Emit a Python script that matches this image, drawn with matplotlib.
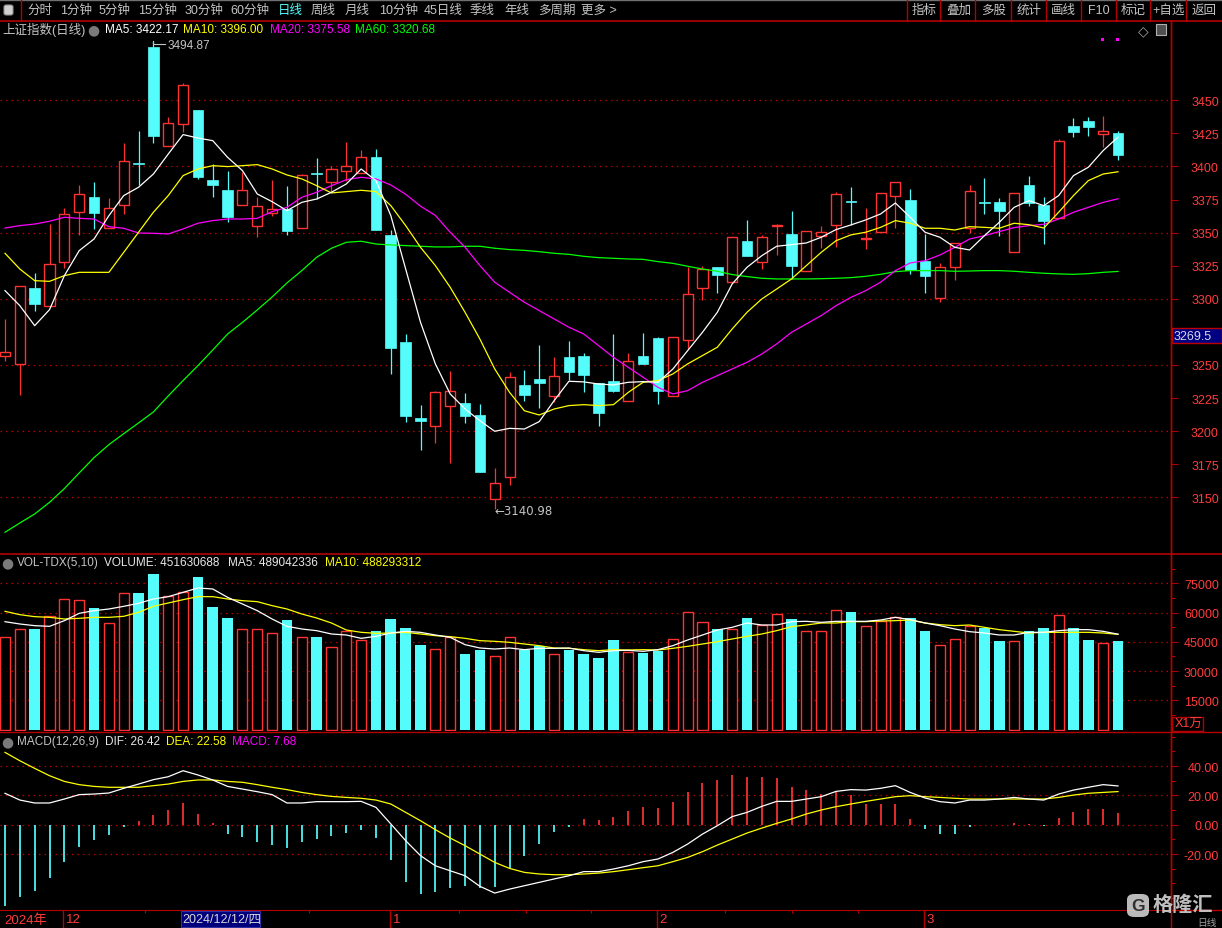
import matplotlib
matplotlib.use('Agg')
import matplotlib.pyplot as plt
from matplotlib.patches import Rectangle, FancyBboxPatch
from matplotlib.lines import Line2D
import numpy as np

plt.rcParams['font.family'] = ['Liberation Sans', 'Noto Sans CJK SC', 'DejaVu Sans']
plt.rcParams['axes.unicode_minus'] = False

# ---------------------------------------------------------------- data
opens = [3256.5, 3250.5, 3308.2, 3294.8, 3328.1, 3365.9, 3377.0, 3353.3, 3370.7, 3402.6,
         3490.3, 3415.7, 3431.9, 3442.7, 3389.8, 3382.2, 3371.2, 3355.3, 3364.6, 3367.9,
         3353.3, 3394.6, 3388.5, 3396.9, 3394.8, 3406.9, 3348.0, 3267.4, 3210.0, 3203.7,
         3218.8, 3221.3, 3212.2, 3148.5, 3165.1, 3234.9, 3239.4, 3226.8, 3255.8, 3256.5,
         3236.1, 3237.9, 3222.5, 3256.8, 3270.4, 3226.3, 3269.1, 3307.9, 3323.8, 3312.5,
         3343.7, 3328.1, 3355.3, 3349.0, 3320.8, 3347.2, 3356.0, 3373.9, 3345.5, 3350.8,
         3378.0, 3374.7, 3328.8, 3300.4, 3324.3, 3353.3, 3373.1, 3372.9, 3335.1, 3386.0,
         3370.9, 3361.3, 3430.4, 3434.4, 3424.3, 3425.3]
highs = [3284.8, 3309.4, 3319.3, 3356.5, 3368.6, 3386.3, 3388.3, 3376.2, 3417.8, 3426.8,
         3494.87, 3437.4, 3463.4, 3442.7, 3401.9, 3396.6, 3395.6, 3377.2, 3389.8, 3385.5,
         3394.3, 3406.4, 3400.6, 3418.5, 3412.5, 3413.2, 3351.8, 3273.4, 3219.8, 3230.1,
         3245.7, 3229.1, 3220.5, 3172.2, 3245.0, 3246.2, 3265.1, 3255.8, 3268.1, 3259.1,
         3236.1, 3273.4, 3259.1, 3274.2, 3271.2, 3270.9, 3324.1, 3324.6, 3323.8, 3346.5,
         3359.6, 3348.2, 3356.5, 3366.4, 3351.0, 3355.0, 3380.5, 3384.5, 3368.6, 3379.7,
         3388.0, 3383.0, 3349.0, 3327.1, 3341.9, 3386.0, 3391.3, 3375.9, 3379.7, 3392.8,
         3377.0, 3420.8, 3436.6, 3437.4, 3438.2, 3426.8]
lows = [3253.3, 3227.6, 3291.1, 3294.8, 3323.0, 3348.2, 3352.8, 3353.3, 3364.4, 3386.3,
        3418.0, 3415.7, 3426.3, 3390.6, 3377.2, 3358.1, 3371.2, 3347.0, 3362.8, 3348.2,
        3353.3, 3375.4, 3380.5, 3389.3, 3394.8, 3352.3, 3243.0, 3206.7, 3186.0, 3191.1,
        3176.0, 3206.2, 3169.4, 3140.98, 3159.6, 3223.0, 3217.5, 3221.8, 3238.9, 3229.8,
        3204.2, 3229.8, 3222.5, 3251.0, 3220.8, 3226.3, 3262.1, 3299.4, 3304.4, 3312.5,
        3332.6, 3322.5, 3333.4, 3315.0, 3320.8, 3338.4, 3339.4, 3355.8, 3337.7, 3350.8,
        3353.5, 3318.8, 3304.4, 3297.9, 3314.5, 3349.5, 3364.4, 3347.7, 3335.1, 3370.4,
        3341.7, 3361.3, 3422.5, 3423.3, 3415.0, 3405.2]
closes = [3259.6, 3309.4, 3296.1, 3326.1, 3363.9, 3379.0, 3365.1, 3368.4, 3403.9, 3402.2,
          3423.3, 3432.6, 3461.3, 3392.3, 3386.3, 3362.1, 3382.0, 3369.9, 3367.6, 3351.5,
          3393.6, 3394.2, 3397.9, 3400.4, 3406.9, 3352.3, 3263.1, 3211.7, 3207.4, 3229.6,
          3230.4, 3211.7, 3169.4, 3160.8, 3240.7, 3227.3, 3236.6, 3241.4, 3245.0, 3242.7,
          3214.0, 3230.6, 3252.8, 3251.0, 3230.1, 3270.9, 3303.4, 3322.5, 3318.3, 3346.5,
          3332.6, 3346.5, 3355.7, 3325.1, 3351.0, 3350.3, 3379.0, 3373.5, 3345.9, 3379.7,
          3388.0, 3321.8, 3317.5, 3323.8, 3341.9, 3381.2, 3372.7, 3366.6, 3379.7, 3372.2,
          3359.1, 3419.0, 3426.3, 3430.1, 3426.6, 3408.9]

ma5 = [3306.2, 3294.8, 3279.7, 3291.8, 3317.5, 3336.4, 3345.2, 3362.8, 3378.0, 3384.3,
       3394.3, 3409.4, 3424.1, 3421.5, 3419.5, 3406.9, 3396.9, 3379.2, 3373.4, 3366.6,
       3372.9, 3375.4, 3380.5, 3386.8, 3398.1, 3389.3, 3362.8, 3322.5, 3282.2, 3250.8,
       3228.1, 3216.8, 3207.9, 3199.9, 3202.1, 3201.6, 3207.2, 3223.0, 3237.7, 3237.2,
       3235.6, 3234.9, 3236.9, 3237.4, 3236.9, 3246.9, 3260.8, 3274.7, 3289.8, 3311.2,
       3323.8, 3332.6, 3339.7, 3340.9, 3342.2, 3346.5, 3352.3, 3355.8, 3359.6, 3364.1,
       3372.4, 3361.6, 3350.3, 3346.5, 3338.9, 3336.9, 3347.7, 3357.8, 3369.1, 3374.2,
       3370.4, 3378.0, 3393.1, 3399.4, 3412.0, 3422.17]
ma10 = [3334.4, 3322.5, 3313.7, 3313.2, 3317.5, 3320.0, 3320.0, 3320.0, 3335.1, 3350.3,
        3365.4, 3378.0, 3393.1, 3398.1, 3400.6, 3399.9, 3400.6, 3401.4, 3398.1, 3393.6,
        3390.6, 3385.5, 3380.0, 3381.0, 3382.0, 3381.0, 3370.4, 3355.3, 3338.9, 3325.1,
        3308.7, 3289.8, 3269.6, 3247.0, 3229.3, 3215.4, 3212.2, 3216.7, 3219.3, 3220.0,
        3219.3, 3220.0, 3229.3, 3236.9, 3238.2, 3243.2, 3250.8, 3257.1, 3263.4, 3277.2,
        3289.8, 3299.9, 3307.4, 3315.0, 3325.1, 3335.1, 3343.9, 3348.3, 3350.3, 3354.0,
        3359.1, 3357.1, 3353.3, 3353.3, 3352.0, 3354.5, 3354.0, 3353.3, 3357.1, 3356.0,
        3353.5, 3365.4, 3378.0, 3389.3, 3394.3, 3396.00]
ma20 = [3353.5, 3355.3, 3356.5, 3358.6, 3361.6, 3360.8, 3360.3, 3354.5, 3353.3, 3349.7,
        3349.5, 3349.0, 3352.8, 3357.1, 3359.1, 3360.3, 3360.3, 3360.8, 3365.9, 3369.1,
        3376.7, 3380.5, 3385.5, 3390.0, 3391.8, 3390.6, 3386.0, 3379.0, 3370.0, 3363.0,
        3350.3, 3339.0, 3325.1, 3312.5, 3304.9, 3297.4, 3291.1, 3284.8, 3278.5, 3273.4,
        3264.6, 3255.8, 3248.2, 3240.7, 3233.1, 3228.1, 3230.6, 3236.9, 3241.9, 3247.0,
        3252.0, 3258.3, 3265.9, 3274.7, 3281.0, 3287.3, 3294.8, 3301.1, 3306.2, 3312.5,
        3321.3, 3327.1, 3328.8, 3333.1, 3338.9, 3345.2, 3347.7, 3350.8, 3353.8, 3355.3,
        3356.3, 3360.3, 3365.4, 3369.1, 3372.9, 3375.58]
ma60 = [3123.6, 3130.6, 3137.4, 3146.2, 3156.6, 3168.4, 3180.0, 3189.8, 3198.1, 3206.2,
        3214.5, 3226.6, 3238.2, 3249.5, 3261.3, 3273.4, 3282.2, 3291.6, 3301.4, 3312.0,
        3321.3, 3331.4, 3338.2, 3342.7, 3343.5, 3341.4, 3340.7, 3340.2, 3339.7, 3339.2,
        3339.2, 3339.7, 3339.7, 3338.2, 3337.2, 3336.6, 3335.6, 3334.4, 3333.6, 3332.1,
        3331.1, 3330.6, 3330.1, 3329.8, 3328.1, 3326.8, 3324.6, 3322.5, 3320.8, 3318.3,
        3316.8, 3315.5, 3315.0, 3315.0, 3315.0, 3315.2, 3315.5, 3316.0, 3317.0, 3318.5,
        3320.5, 3321.3, 3321.3, 3321.3, 3320.8, 3321.0, 3321.3, 3321.3, 3320.8, 3320.0,
        3319.3, 3318.8, 3318.5, 3319.0, 3320.0, 3320.68]

# volume, unit: 10k (万)
volume = [47297, 51398, 51570, 58063, 66780, 66267, 62337, 54475, 69855, 70026,
          79767, 68317, 70367, 78229, 62850, 57210, 51398, 51398, 49347, 56185,
          47297, 47468, 42170, 50545, 45931, 50545, 56698, 52084, 43368, 41146,
          47639, 38753, 40804, 37556, 47297, 40975, 43026, 38582, 40975, 38753,
          36873, 45929, 39948, 39264, 40460, 46441, 60113, 54986, 51568, 51398,
          57208, 53619, 59087, 56695, 50372, 50372, 61139, 60285, 52936, 55499,
          57550, 57208, 50543, 43194, 46270, 53277, 52081, 45416, 45416, 50543,
          52081, 58575, 52081, 46099, 44219, 45163]
vol_ma5 = [55329, 54133, 53278, 52936, 55841, 59601, 60968, 61823, 63190, 64728,
           66950, 68146, 70368, 72590, 72077, 67805, 64387, 60968, 56696, 52936,
           51569, 50715, 49005, 48493, 46784, 47809, 49518, 50373, 49860, 48493,
           47296, 43537, 41828, 41315, 41828, 40973, 41657, 41657, 41828, 40460,
           39606, 40460, 40631, 40118, 40973, 43024, 45930, 48493, 51056, 52424,
           54645, 53620, 53620, 55329, 55500, 54987, 55500, 55500, 55500, 56183,
           57551, 56354, 54645, 53278, 51569, 50202, 49518, 48493, 48493, 49860,
           49860, 50715, 51228, 51228, 50373, 48904]
vol_ma10 = [60627, 58918, 57892, 57550, 56696, 57038, 57550, 57550, 58063, 60114,
            63190, 64899, 66608, 68146, 68146, 66950, 66096, 65583, 63532, 61823,
            59260, 57209, 54645, 51056, 49860, 49347, 49518, 49860, 49005, 48151,
            47638, 46784, 45588, 45246, 44733, 43878, 43024, 41828, 41657, 40973,
            40460, 40973, 40802, 40973, 40802, 41657, 42682, 43878, 45075, 46442,
            47809, 49005, 50715, 52766, 53620, 54645, 54645, 55329, 55329, 55671,
            55841, 56183, 54645, 53791, 53278, 53620, 52424, 51228, 50373, 49518,
            49860, 49860, 49860, 49860, 49518, 48829]

dif = [21.4, 16.8, 14.8, 14.8, 17.5, 20.5, 20.9, 21.6, 24.8, 27.7,
       30.7, 32.7, 36.8, 33.9, 30.5, 26.1, 24.3, 22.5, 20.5, 14.8,
       14.8, 15.7, 15.7, 15.7, 15.9, 11.8, 0.5, -10.9, -21.1, -28.0,
       -31.4, -34.8, -42.0, -46.6, -43.9, -41.6, -39.3, -37.0, -34.8, -32.0,
       -32.0, -30.2, -28.0, -25.2, -23.4, -18.9, -13.2, -6.4, -0.7, 5.5,
       8.4, 12.5, 15.9, 15.9, 17.5, 19.1, 22.7, 23.9, 23.6, 24.8,
       26.6, 22.0, 18.2, 15.7, 14.8, 16.8, 16.8, 17.5, 18.6, 17.5,
       16.8, 20.9, 23.6, 25.5, 27.3, 26.42]
dea = [49.3, 43.6, 38.4, 33.4, 29.5, 27.3, 26.1, 25.5, 25.5, 25.5,
       26.6, 27.7, 29.5, 30.5, 30.5, 29.5, 28.9, 27.3, 25.5, 23.9,
       22.0, 20.5, 19.3, 18.6, 18.0, 16.8, 14.1, 8.4, 2.7, -3.4,
       -9.1, -14.3, -20.0, -25.7, -29.8, -32.5, -33.6, -34.1, -34.1, -33.6,
       -33.0, -32.0, -30.7, -29.3, -28.0, -25.2, -22.3, -18.4, -13.9, -9.8,
       -5.7, -2.3, 0.9, 3.9, 7.3, 10.0, 12.3, 14.1, 15.9, 17.5,
       19.1, 19.8, 19.1, 18.6, 18.0, 17.5, 17.5, 17.5, 17.5, 17.5,
       17.5, 18.6, 20.2, 21.4, 22.0, 22.58]
macd = [-55.7, -49.1, -45.0, -36.4, -25.2, -15.0, -10.2, -7.0, -1.4, 2.3,
        6.6, 10.2, 14.8, 7.3, 0.9, -6.4, -8.2, -11.6, -13.9, -16.1,
        -12.0, -9.8, -7.5, -5.7, -3.4, -9.1, -23.9, -38.9, -47.3, -46.1,
        -43.4, -41.6, -43.4, -42.7, -29.8, -21.1, -13.2, -5.2, -1.4, 3.9,
        3.2, 5.0, 9.5, 11.8, 11.4, 15.2, 22.5, 28.4, 30.5, 33.9,
        32.7, 32.7, 31.8, 25.9, 23.6, 20.9, 22.0, 20.5, 14.1, 14.1,
        14.1, 3.9, -3.0, -6.4, -6.4, -1.4, 0.0, 0.0, 1.1, 0.5,
        -0.7, 4.5, 8.9, 10.7, 10.7, 7.68]

price_ticks = [3150, 3175, 3200, 3225, 3250, 3275, 3300, 3325, 3350, 3375, 3400, 3425, 3450]
price_hidden_label = 3275          # covered by the current-price box
price_grid = [3150, 3200, 3250, 3300, 3350, 3400, 3450]
vol_ticks = [15000, 30000, 45000, 60000, 75000]
vol_minor = [7500, 22500, 37500, 52500, 67500, 82500]
macd_ticks = [-20, 0, 20, 40]
macd_minor = [-50, -40, -30, -10, 10, 30, 50, 60]

month_starts = [4, 26, 44, 62]
month_labels = ['12', '1', '2', '3']
year_label = '2024年'
highlight_idx = 12
highlight_label = '2024/12/12/四'
week_ticks = [9.45, 20.5, 30.6, 35.1, 39.5, 48.5, 53.0, 57.5]

cur_price_label = '3269.5'
cur_price_pos = 3272.0

toolbar_items = ['分时', '1分钟', '5分钟', '15分钟', '30分钟', '60分钟', '日线', '周线', '月线',
                 '10分钟', '45日线', '季线', '年线', '多周期', '更多 >']
toolbar_buttons = ['指标', '叠加', '多股', '统计', '画线', 'F10', '标记', '+自选', '返回']

vol_total_raw = 451630688
vol_ma5_raw = 489042336
vol_ma10_raw = 488293312

# ---------------------------------------------------------------- layout helpers
W, H = 1222, 929
fig = plt.figure(figsize=(W / 100, H / 100), dpi=100)
fig.patch.set_facecolor('black')


def fy(y):
    return 1 - y / H


def rect(x0, y0, x1, y1):
    return [x0 / W, 1 - y1 / H, (x1 - x0) / W, (y1 - y0) / H]


def hline(y, x0, x1, color, lw=1.0, **kw):
    fig.add_artist(Line2D([x0 / W, x1 / W], [fy(y), fy(y)], color=color, lw=lw,
                          transform=fig.transFigure, **kw))


def vline(x, y0, y1, color, lw=1.0, **kw):
    fig.add_artist(Line2D([x / W, x / W], [fy(y0), fy(y1)], color=color, lw=lw,
                          transform=fig.transFigure, **kw))


def ftext(x, y, s, color, size=9, ha='left', **kw):
    fig.text(x / W, fy(y), s, color=color, fontsize=size, ha=ha, va='center', **kw)


RED = '#FF3232'
CYAN = '#54FCFC'
DKRED = '#B40000'
GRIDC = '#B80000'
LBLRED = '#FF3C3C'
GRAY = '#C4C4C4'
YEL = '#FFFF00'
MAG = '#FF00FF'
GRN = '#00FF00'

n = len(closes)
idx = np.arange(n)
STEP = 14.84
XL = (-5 / STEP, (1171 - 5) / STEP)


def style_axis(a, ylim, ticks, labels, minor=None, grid=None):
    a.set_facecolor('black')
    a.set_xlim(*XL)
    a.set_ylim(*ylim)
    for s in ['top', 'bottom', 'left']:
        a.spines[s].set_visible(False)
    a.spines['right'].set_color(DKRED)
    a.spines['right'].set_linewidth(1.0)
    a.set_xticks([])
    a.yaxis.tick_right()
    a.set_yticks(ticks)
    a.set_yticklabels(labels)
    if minor is not None:
        a.set_yticks(minor, minor=True)
    a.tick_params(axis='y', which='major', length=5, width=0.8, color=DKRED,
                  labelcolor=LBLRED, labelsize=9, pad=29.5)
    a.tick_params(axis='y', which='minor', length=3, width=0.8, color=DKRED)
    for t in a.get_yticklabels():
        t.set_ha('right')
    if grid is not None:
        for g in grid:
            a.axhline(g, color=GRIDC, lw=0.9, ls=(0, (1.2, 3.2)), zorder=0.5)


# ---------------------------------------------------------------- main price panel
ax = fig.add_axes(rect(0, 22, 1171, 553))
style_axis(ax, (3108.66, 3509.93), price_ticks,
           ['' if t == price_hidden_label else str(t) for t in price_ticks], grid=price_grid)

for i in range(n):
    o, h, l, c = opens[i], highs[i], lows[i], closes[i]
    top, bot = max(o, c), min(o, c)
    hgt = max(top - bot, 0.7)
    if c >= o:
        if h > top:
            ax.vlines(i, top, h, color=RED, lw=0.9, zorder=2)
        if l < bot:
            ax.vlines(i, l, bot, color=RED, lw=0.9, zorder=2)
        ax.add_patch(Rectangle((i - 0.34, bot), 0.68, hgt, facecolor='black',
                               edgecolor=RED, lw=1.0, zorder=2.1))
    else:
        ax.vlines(i, l, h, color=CYAN, lw=0.9, zorder=2)
        ax.add_patch(Rectangle((i - 0.36, bot), 0.72, hgt, facecolor=CYAN,
                               edgecolor=CYAN, lw=0.5, zorder=2.1))

ax.plot(idx, ma60, color=GRN, lw=0.9, zorder=3)
ax.plot(idx, ma20, color=MAG, lw=0.9, zorder=3)
ax.plot(idx, ma10, color=YEL, lw=0.9, zorder=3)
ax.plot(idx, ma5, color='white', lw=0.9, zorder=3)

# extreme labels
hi_i = int(np.argmax(highs))
lo_i = int(np.argmin(lows))
ax.plot([hi_i, hi_i, hi_i + 0.75], [highs[hi_i], highs[hi_i] - 2.5, highs[hi_i] - 2.5],
        color=GRAY, lw=0.8, zorder=4)
ax.text(hi_i + 0.92, highs[hi_i] - 3.3, f'{highs[hi_i]:.2f}', color=GRAY, fontsize=8.5,
        ha='left', va='center', zorder=4)
ax.text(lo_i - 0.05, lows[lo_i] - 0.6, f'\u2190{lows[lo_i]:.2f}', color=GRAY, fontsize=8.5,
        ha='left', va='center', zorder=4, family=['DejaVu Sans'])

# ---------------------------------------------------------------- volume panel
axv = fig.add_axes(rect(0, 555, 1171, 732))
style_axis(axv, (-728, 90020), vol_ticks, [str(t) for t in vol_ticks], minor=vol_minor,
           grid=vol_ticks)
for i in range(n):
    if closes[i] >= opens[i]:
        axv.bar(i, volume[i], width=0.68, facecolor='black', edgecolor=RED, lw=1.0, zorder=2)
    else:
        axv.bar(i, volume[i], width=0.72, color=CYAN, zorder=2)
axv.plot(idx, vol_ma10, color=YEL, lw=0.9, zorder=3)
axv.plot(idx, vol_ma5, color='white', lw=0.9, zorder=3)

# ---------------------------------------------------------------- MACD panel
axm = fig.add_axes(rect(0, 733, 1171, 911))
style_axis(axm, (-58.15, 63.19), macd_ticks, [f'{t:.2f}' for t in macd_ticks],
           minor=macd_minor, grid=macd_ticks)
cols = [RED if v > 0 else CYAN for v in macd]
axm.vlines(idx, 0, macd, colors=cols, lw=1.25, zorder=2)
axm.plot(idx, dea, color=YEL, lw=0.9, zorder=3)
axm.plot(idx, dif, color='white', lw=0.9, zorder=3)

# ---------------------------------------------------------------- date strip
axd = fig.add_axes(rect(0, 911, 1171, 929))
axd.set_facecolor('black')
axd.set_xlim(*XL)
axd.set_ylim(0, 1)
for s in ['bottom', 'left']:
    axd.spines[s].set_visible(False)
axd.spines['top'].set_color(DKRED)
axd.spines['right'].set_color(DKRED)
axd.set_xticks([])
axd.set_yticks([])
axd.text(-0.05, 0.48, year_label, color=LBLRED, fontsize=9.5, ha='left', va='center')
for ms, ml in zip(month_starts, month_labels):
    axd.vlines(ms - 0.07, 0, 1, color=DKRED, lw=1.0)
    axd.text(ms + 0.12, 0.48, ml, color=LBLRED, fontsize=9.5, ha='left', va='center')
for wt in week_ticks:
    axd.vlines(wt, 0.82, 1, color=DKRED, lw=0.8)
axd.add_patch(Rectangle((highlight_idx - 0.14, 0.05), 5.3, 0.9, facecolor='#00007C',
                        edgecolor='#3030A0', lw=0.8, zorder=3))
axd.text(highlight_idx - 0.07, 0.48, highlight_label, color='#D8D8D8', fontsize=9,
         ha='left', va='center', zorder=4)

# ---------------------------------------------------------------- frame lines
hline(0.5, 0, W, '#707070', lw=1.0)
hline(21.5, 0, W, DKRED, lw=1.2)
hline(554.5, 0, W, DKRED, lw=1.2)
hline(733, 0, W, DKRED, lw=1.0)
hline(911, 1171, W, DKRED, lw=1.0)
vline(1171.3, 21.5, 929, DKRED, lw=1.0)
vline(21, 0, 21.5, DKRED, lw=1.0)

# ---------------------------------------------------------------- toolbar
tb_x = [27, 60, 99, 138, 185, 230, 278, 311, 345, 379, 424, 470, 504, 538, 581]
for x, s in zip(tb_x, toolbar_items):
    ftext(x, 11, s, CYAN if s == '日线' else GRAY, size=9)
fig.add_artist(FancyBboxPatch((4 / W, fy(16)), 9 / W, 10 / H,
                              boxstyle='round,pad=0,rounding_size=0.002',
                              facecolor='#D0D0D0', edgecolor='#909090', lw=0.8,
                              transform=fig.transFigure))
seps = [906.7, 940.5, 975.4, 1010.7, 1045.6, 1080.6, 1115.5, 1150.4, 1185.7]
for k, s in enumerate(toolbar_buttons):
    vline(seps[k], 1, 21.5, DKRED, lw=1.0)
    x1 = seps[k + 1] if k + 1 < len(seps) else W
    ftext((seps[k] + x1) / 2 + 0.5, 11, s, GRAY, size=9, ha='center')

# ---------------------------------------------------------------- panel titles
TS = 8.5
ftext(2, 30, '上证指数(日线)', GRAY, size=9)
ftext(93, 30, '\u25CF', '#7A7A7A', size=10, ha='center', family=['DejaVu Sans'])
ftext(105, 30, f'MA5: {ma5[-1]:.2f}', 'white', size=TS)
ftext(183, 30, f'MA10: {ma10[-1]:.2f}', YEL, size=TS)
ftext(270, 30, f'MA20: {ma20[-1]:.2f}', MAG, size=TS)
ftext(355, 30, f'MA60: {ma60[-1]:.2f}', GRN, size=TS)
ftext(1143, 31, '\u25C7', '#A0A0A0', size=10, ha='center', family=['DejaVu Sans'])
fig.add_artist(Rectangle((1156 / W, fy(36)), 10 / W, 11 / H, facecolor='#505050',
                         edgecolor='#B0B0B0', lw=0.8, transform=fig.transFigure))
for mx in (1102.3, 1117.3):
    fig.add_artist(Rectangle(((mx - 1.3) / W, fy(41.5)), 2.6 / W, 2.6 / H, facecolor=MAG,
                             edgecolor='none', transform=fig.transFigure))

ftext(7, 563, '\u25CF', '#7A7A7A', size=10, ha='center', family=['DejaVu Sans'])
ftext(17, 563, 'VOL-TDX(5,10)', GRAY, size=TS)
ftext(104, 563, f'VOLUME: {vol_total_raw}', '#E8E8E8', size=TS)
ftext(228, 563, f'MA5: {vol_ma5_raw}', '#E8E8E8', size=TS)
ftext(325, 563, f'MA10: {vol_ma10_raw}', YEL, size=TS)

ftext(7, 742, '\u25CF', '#7A7A7A', size=10, ha='center', family=['DejaVu Sans'])
ftext(17, 742, 'MACD(12,26,9)', GRAY, size=TS)
ftext(105, 742, f'DIF: {dif[-1]:.2f}', '#E8E8E8', size=TS)
ftext(166, 742, f'DEA: {dea[-1]:.2f}', YEL, size=TS)
ftext(232, 742, f'MACD: {macd[-1]:.2f}', MAG, size=TS)

# current price box on right axis
y_cp = 101.3 + (3450 - cur_price_pos) * 1.3233
fig.add_artist(Rectangle((1172 / W, fy(y_cp + 7.5)), 50 / W, 15 / H, facecolor='#000080',
                         edgecolor='#C00000', lw=1.0, transform=fig.transFigure, zorder=5))
fig.text(1174 / W, fy(y_cp), cur_price_label, color='#D8D8E8', fontsize=9, ha='left',
         va='center', zorder=6)

# X1万 box
fig.add_artist(Rectangle((1172 / W, fy(732)), 31 / W, 14 / H, facecolor='black',
                         edgecolor=DKRED, lw=1.0, transform=fig.transFigure, zorder=5))
fig.text(1175 / W, fy(725), 'X1万', color=LBLRED, fontsize=9, ha='left', va='center', zorder=6)

# watermark and bottom-right label
fig.add_artist(FancyBboxPatch((1127 / W, fy(918)), 22 / W, 23 / H,
                              boxstyle='round,pad=0,rounding_size=0.006',
                              facecolor='#CFCFCF', edgecolor='none', alpha=0.9,
                              transform=fig.transFigure, zorder=5))
fig.text(1138 / W, fy(906.5), 'G', color='#303030', fontsize=12.5, fontweight='bold',
         ha='center', va='center', zorder=6)
fig.text(1153 / W, fy(905.5), '格隆汇', color='#D4D4D4', fontsize=14.5, fontweight='bold',
         ha='left', va='center', alpha=0.9, zorder=6)
fig.text(1197 / W, fy(923.5), '日线', color='#A0A0A0', fontsize=7, ha='left', va='center',
         zorder=7)

fig.savefig('out.png', dpi=100, facecolor='black')
